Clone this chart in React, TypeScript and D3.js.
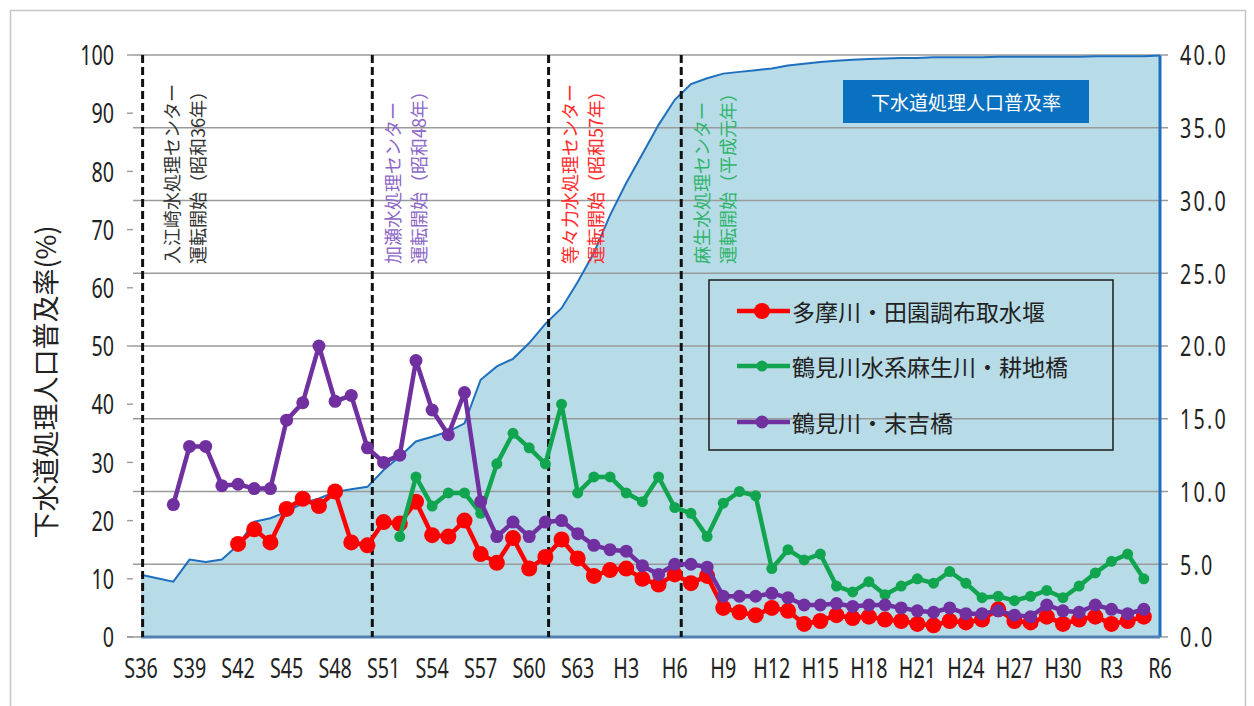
import React, { useEffect, useRef } from "react";
import * as d3 from "d3";

// x-axis tick labels (every 3 years from S36 = 1961 to R6 = 2024)
const tickLabels = ["S36", "S39", "S42", "S45", "S48", "S51", "S54", "S57", "S60", "S63", "H3", "H6", "H9", "H12", "H15", "H18", "H21", "H24", "H27", "H30", "R3", "R6"];
const firstYear = 1961;
const lastYear = 2024;

// 下水道処理人口普及率 (%), 1961-2024
const coverage = [
  10.7, 10.1, 9.5, 13.3, 12.9, 13.3, 15.8, 19.8, 20.4, 21.5,
  23.0, 23.8, 24.9, 25.4, 25.8, 28.7, 31.0, 33.6, 34.4, 35.3,
  36.7, 44.2, 46.5, 47.8, 50.5, 53.8, 56.5, 61.0, 66.0, 72.5,
  78.0, 83.0, 88.0, 92.3, 95.0, 96.0, 96.8, 97.1, 97.4, 97.7,
  98.2, 98.5, 98.8, 99.0, 99.2, 99.3, 99.4, 99.5, 99.5, 99.6,
  99.6, 99.6, 99.6, 99.7, 99.7, 99.7, 99.7, 99.7, 99.7, 99.8,
  99.8, 99.8, 99.8, 99.9,
];

// BOD (mg/L), right axis
const tamaStart = 1967;
const tama = [
  6.4, 7.4, 6.5, 8.8, 9.5, 9.0, 10.0, 6.5, 6.3, 7.9,
  7.8, 9.3, 7.0, 6.9, 8.0, 5.7, 5.1, 6.8, 4.7, 5.5,
  6.7, 5.4, 4.2, 4.6, 4.7, 4.0, 3.6, 4.3, 3.7, 4.2,
  2.0, 1.7, 1.5, 2.0, 1.8, 0.9, 1.1, 1.5, 1.3, 1.4,
  1.2, 1.1, 0.9, 0.8, 1.1, 1.0, 1.2, 1.9, 1.1, 1.0,
  1.4, 0.9, 1.2, 1.4, 0.9, 1.1, 1.4,
];
const asaoStart = 1977;
const asao = [
  6.9, 11.0, 9.0, 9.9, 9.9, 8.5, 11.9, 14.0, 13.0, 11.9,
  16.0, 9.9, 11.0, 11.0, 9.9, 9.3, 11.0, 8.9, 8.5, 6.9,
  9.2, 10.0, 9.7, 4.7, 6.0, 5.3, 5.7, 3.5, 3.1, 3.8,
  2.9, 3.5, 4.0, 3.7, 4.5, 3.7, 2.7, 2.8, 2.5, 2.8,
  3.2, 2.7, 3.5, 4.4, 5.2, 5.7, 4.0,
];
const suekichiStart = 1963;
const suekichi = [
  9.1, 13.1, 13.1, 10.4, 10.5, 10.2, 10.2, 14.9, 16.1, 20.0,
  16.2, 16.6, 13.0, 12.0, 12.5, 19.0, 15.6, 13.9, 16.8, 9.3,
  6.9, 7.9, 6.9, 7.9, 8.0, 7.1, 6.3, 6.0, 5.9, 4.9,
  4.3, 5.0, 5.0, 4.8, 2.8, 2.8, 2.8, 3.0, 2.7, 2.2,
  2.2, 2.3, 2.1, 2.2, 2.2, 2.0, 1.8, 1.7, 2.0, 1.6,
  1.6, 1.8, 1.5, 1.4, 2.2, 1.8, 1.7, 2.2, 1.9, 1.6, 1.9,
];

const seriesNames = ["多摩川・田園調布取水堰", "鶴見川水系麻生川・耕地橋", "鶴見川・末吉橋"];
const seriesColors = ["#ff0000", "#12a550", "#7030a0"];

// treatment centre start lines
const centerYears = [1961.1, 1975.3, 1986.2, 1994.4];
const centerLine1 = ["入江崎水処理センター", "加瀬水処理センター", "等々力水処理センター", "麻生水処理センター"];
const centerLine2 = ["運転開始（昭和36年）", "運転開始（昭和48年）", "運転開始（昭和57年）", "運転開始（平成元年）"];
const centerColors = ["#333333", "#8d68c6", "#ff2b2b", "#30b46c"];

const numFont = "'Noto Sans', sans-serif";
const jpFont = "'Noto Sans CJK JP', 'Noto Sans', sans-serif";
const narrow = 0.73; // numbers in the original use a condensed face

export default function App() {
  const ref = useRef<SVGSVGElement>(null);

  useEffect(() => {
    document.body.style.margin = "0";
    const left = 141, right = 1160, top = 55, bottom = 637;

    const svg = d3.select(ref.current);
    svg.selectAll("*").remove();

    const x = d3.scaleLinear().domain([firstYear, lastYear]).range([left, right]);
    const yL = d3.scaleLinear().domain([0, 100]).range([bottom, top]);
    const yR = d3.scaleLinear().domain([0, 40]).range([bottom, top]);

    svg.append("rect")
      .attr("x", 10.5).attr("y", 10.5)
      .attr("width", 1235).attr("height", 705)
      .attr("fill", "#fff").attr("stroke", "#c4c4c4").attr("stroke-width", 1.5);

    // coverage area
    const covData = coverage.map((v, i) => ({ year: firstYear + i, value: v }));
    const area = d3.area<{ year: number; value: number }>()
      .x(d => x(d.year)).y0(yL(0)).y1(d => yL(d.value));
    svg.append("path").datum(covData)
      .attr("d", area)
      .attr("fill", "#b8dce7");

    // grid lines (right axis ticks)
    const rTicks = d3.range(0, 45, 5);
    svg.append("g").selectAll("line").data(rTicks).join("line")
      .attr("x1", d => d === 0 ? 127 : 133).attr("x2", right + 8)
      .attr("y1", d => yR(d)).attr("y2", d => yR(d))
      .attr("stroke", "#9a9a9a").attr("stroke-width", 1.4);

    // coverage outline
    const line = d3.line<{ year: number; value: number }>()
      .x(d => x(d.year)).y(d => yL(d.value));
    svg.append("path").datum(covData)
      .attr("d", line)
      .attr("fill", "none").attr("stroke", "#1f6fbf").attr("stroke-width", 2);
    svg.append("line")
      .attr("x1", x(lastYear)).attr("x2", x(lastYear))
      .attr("y1", yL(0)).attr("y2", yL(coverage[coverage.length - 1]))
      .attr("stroke", "#1f6fbf").attr("stroke-width", 3);
    svg.append("line")
      .attr("x1", x(firstYear)).attr("x2", x(lastYear))
      .attr("y1", yL(0)).attr("y2", yL(0))
      .attr("stroke", "#4f82b3").attr("stroke-width", 3);

    // left axis
    const lTicks = d3.range(0, 110, 10);
    const gl = svg.append("g");
    gl.selectAll("line").data(lTicks).join("line")
      .attr("x1", 127).attr("x2", 133)
      .attr("y1", d => yL(d)).attr("y2", d => yL(d))
      .attr("stroke", "#9a9a9a").attr("stroke-width", 1.4);
    gl.selectAll("text").data(lTicks).join("text")
      .attr("transform", d => `translate(114,${yL(d)}) scale(${narrow},1)`)
      .attr("text-anchor", "end").attr("dominant-baseline", "central")
      .attr("font-family", numFont).attr("font-size", 27).attr("fill", "#222")
      .text(d => d);

    // right axis labels
    svg.append("g").selectAll("text").data(rTicks).join("text")
      .attr("transform", d => `translate(1180,${yR(d)}) scale(${narrow},1)`)
      .attr("text-anchor", "start").attr("dominant-baseline", "central")
      .attr("font-family", numFont).attr("font-size", 27).attr("fill", "#222")
      .attr("letter-spacing", 3)
      .text(d => d.toFixed(1));

    // x labels
    svg.append("g").selectAll("text").data(tickLabels).join("text")
      .attr("transform", (d, i) => `translate(${x(firstYear + i * 3)},668) scale(${narrow},1)`)
      .attr("text-anchor", "middle").attr("dominant-baseline", "central")
      .attr("font-family", numFont).attr("font-size", 27).attr("fill", "#222")
      .text(d => d);

    // y title
    svg.append("text")
      .attr("transform", "translate(44,382) rotate(-90)")
      .attr("text-anchor", "middle").attr("dominant-baseline", "central")
      .attr("font-family", jpFont).attr("font-size", 27).attr("fill", "#222")
      .text("下水道処理人口普及率(%)");

    // dashed centre lines + notes
    svg.append("g").selectAll("line").data(centerYears).join("line")
      .attr("x1", d => x(d)).attr("x2", d => x(d))
      .attr("y1", top).attr("y2", bottom)
      .attr("stroke", "#111").attr("stroke-width", 3).attr("stroke-dasharray", "8 4");
    centerYears.forEach((yr, i) => {
      const dx = i === 0 ? 28 : 20;
      [centerLine1[i], centerLine2[i]].forEach((t, j) => {
        svg.append("text")
          .attr("transform", `translate(${x(yr) + dx + j * 26},264) rotate(-90)`)
          .attr("text-anchor", "start").attr("dominant-baseline", "central")
          .attr("font-family", jpFont).attr("font-size", 18).attr("fill", centerColors[i])
          .text(t);
      });
    });

    // BOD series
    const series = [
      { start: tamaStart, values: tama, r: 8 },
      { start: asaoStart, values: asao, r: 5.5 },
      { start: suekichiStart, values: suekichi, r: 6.5 },
    ];
    const bodLine = d3.line<{ year: number; value: number }>()
      .x(d => x(d.year)).y(d => yR(d.value));
    series.forEach((s, k) => {
      const data = s.values.map((v, i) => ({ year: s.start + i, value: v }));
      const g = svg.append("g");
      g.append("path").datum(data)
        .attr("d", bodLine)
        .attr("fill", "none").attr("stroke", seriesColors[k]).attr("stroke-width", 4.5)
        .attr("stroke-linejoin", "round");
      g.selectAll("circle").data(data).join("circle")
        .attr("cx", d => x(d.year)).attr("cy", d => yR(d.value))
        .attr("r", s.r).attr("fill", seriesColors[k]);
    });

    // legend
    const lg = svg.append("g");
    lg.append("rect")
      .attr("x", 709).attr("y", 280).attr("width", 404).attr("height", 170)
      .attr("fill", "none").attr("stroke", "#1a1a1a").attr("stroke-width", 1.5);
    const legendY = [311, 366, 422];
    seriesNames.forEach((n, k) => {
      lg.append("line")
        .attr("x1", 737).attr("x2", 790).attr("y1", legendY[k]).attr("y2", legendY[k])
        .attr("stroke", seriesColors[k]).attr("stroke-width", 4.5);
      lg.append("circle")
        .attr("cx", 762).attr("cy", legendY[k]).attr("r", series[k].r)
        .attr("fill", seriesColors[k]);
      lg.append("text")
        .attr("x", 792).attr("y", legendY[k])
        .attr("dominant-baseline", "central")
        .attr("font-family", jpFont).attr("font-size", 23).attr("fill", "#222")
        .text(n);
    });

    // coverage label box
    svg.append("rect")
      .attr("x", 843).attr("y", 80).attr("width", 246).attr("height", 43)
      .attr("fill", "#0a70c0");
    svg.append("text")
      .attr("x", 966).attr("y", 101.5)
      .attr("text-anchor", "middle").attr("dominant-baseline", "central")
      .attr("font-family", jpFont).attr("font-size", 19).attr("fill", "#fff")
      .text("下水道処理人口普及率");
  }, []);

  return <svg ref={ref} width={1254} height={706} style={{ display: "block" }} />;
}
